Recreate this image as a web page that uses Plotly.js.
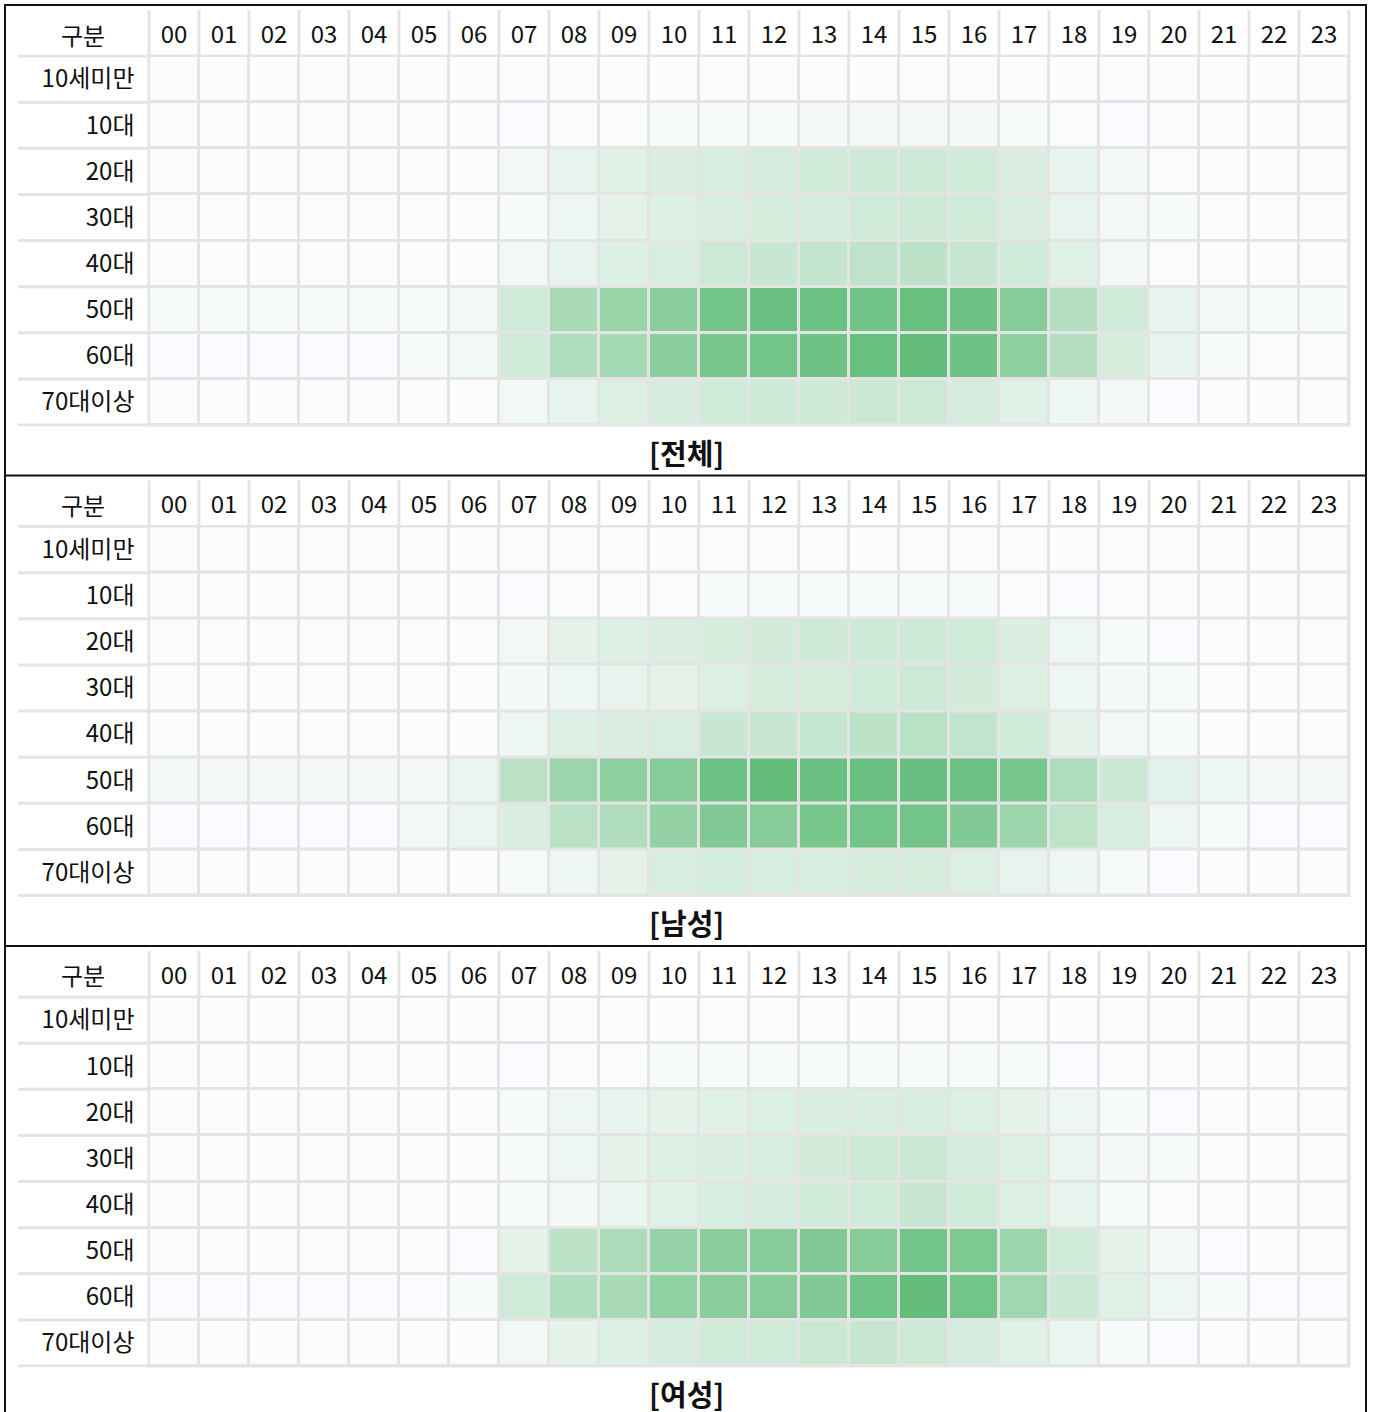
<!DOCTYPE html>
<html>
<head>
<meta charset="utf-8">
<script src="https://cdn.plot.ly/plotly-3.0.1.min.js"></script>
<style>
  html, body { margin: 0; padding: 0; background: #ffffff; }
  #chart { width: 1375px; height: 1412px; }
</style>
</head>
<body>
<div id="chart"></div>
<script>
// ---- data ----
const hours = ['00','01','02','03','04','05','06','07','08','09','10','11','12','13','14','15','16','17','18','19','20','21','22','23'];
const ageGroups = ['10세미만','10대','20대','30대','40대','50대','60대','70대이상'];
const headerLabel = '구분';
const panelTitles = ['[전체]','[남성]','[여성]'];

// relative intensity (0 = lowest, 100 = highest) per age group x hour
const totalValues = [
  [0,0,0,0,0,0,0,0,0,0,0,0,0,0,0,0,0,0,0,0,0,0,0,0],
  [0,0,0,0,0,0,0,1,2,2,3,3,4,5,6,6,5,3,2,1,0,0,0,0],
  [0,0,0,0,0,0,0,6,14,18,22,24,26,28,30,30,28,22,13,6,2,0,0,0],
  [0,0,0,0,0,0,0,3,10,16,20,23,25,26,29,31,28,23,14,6,3,0,0,0],
  [0,0,0,0,0,0,0,7,14,20,24,31,34,37,40,42,35,28,18,6,2,0,0,0],
  [4,4,4,4,4,4,7,29,55,65,75,90,96,94,91,97,93,78,48,29,13,6,4,4],
  [1,1,1,1,1,4,7,28,50,57,73,86,90,93,97,100,93,72,46,25,13,3,2,2],
  [0,0,0,0,0,0,0,7,14,21,26,28,30,30,33,31,26,18,10,5,1,0,0,0]
];
const maleValues = [
  [0,0,0,0,0,0,0,0,0,0,0,0,0,0,0,0,0,0,0,0,0,0,0,0],
  [0,0,0,0,0,0,0,1,2,2,2,3,3,3,4,4,3,2,1,0,0,0,0,0],
  [0,0,0,0,0,0,0,6,15,20,23,25,27,30,30,30,29,22,10,3,1,0,0,0],
  [0,0,0,0,0,0,0,5,10,14,16,21,25,25,28,31,27,21,10,5,3,0,0,0],
  [0,0,0,0,0,0,0,10,20,22,24,34,35,36,42,44,38,29,16,7,3,0,0,0],
  [7,6,6,6,6,6,12,43,63,72,78,94,100,96,96,98,94,86,51,32,17,10,6,6],
  [1,1,1,1,1,6,11,22,43,50,68,80,78,86,90,90,80,63,41,24,10,3,1,1],
  [0,0,0,0,0,0,0,3,10,16,24,26,24,24,25,25,21,14,10,3,1,0,0,0]
];
const femaleValues = [
  [0,0,0,0,0,0,0,0,0,0,0,0,0,0,0,0,0,0,0,0,0,0,0,0],
  [0,0,0,0,0,0,0,1,2,2,3,3,3,4,4,4,4,3,1,0,0,0,0,0],
  [0,0,0,0,0,0,0,4,9,13,16,18,21,22,23,24,21,15,9,3,1,0,0,0],
  [0,0,0,0,0,0,0,3,10,15,20,22,24,27,31,33,26,21,11,5,3,0,0,0],
  [0,0,0,0,0,0,0,4,7,12,18,24,26,28,29,35,29,21,14,3,0,0,0,0],
  [0,0,0,0,0,0,1,15,42,52,67,76,78,80,78,90,83,63,29,15,6,1,0,0],
  [1,1,1,1,1,1,4,29,50,55,69,76,78,80,91,100,90,60,33,18,9,3,1,1],
  [0,0,0,0,0,0,0,7,15,20,26,28,28,32,35,31,26,18,11,3,1,0,0,0]
];
const panels = [totalValues, maleValues, femaleValues];

// ---- layout helpers ----
const W = 1375, H = 1412;
const FONT = '"Noto Sans CJK KR", "Noto Sans", sans-serif';
const GRID = '#e4e4e4';
const PANEL_STEP = 470.5;
const fx = px => px / W;
const fy = py => 1 - py / H;

const dataLeft = 149, dataRight = 1349, labelLeft = 18;
const colW = (dataRight - dataLeft) / hours.length;
const pad = 1.5;

const traces = [];
const layout = {
  width: W, height: H,
  margin: {l: 0, r: 0, t: 0, b: 0},
  paper_bgcolor: '#ffffff',
  plot_bgcolor: GRID,
  showlegend: false,
  font: {family: FONT, color: '#111111', size: 24},
  annotations: [],
  shapes: []
};

panels.forEach((vals, k) => {
  const off = PANEL_STEP * k;
  const dataTop = 56 + off, dataBottom = 425 + off;
  const rowH = (dataBottom - dataTop) / ageGroups.length;
  const sfx = k === 0 ? '' : String(k + 1);

  traces.push({
    type: 'heatmap',
    x: hours, y: ageGroups, z: vals,
    xaxis: 'x' + sfx, yaxis: 'y' + sfx,
    zmin: 0, zmax: 100,
    colorscale: [[0, '#FCFCFF'], [1, '#63BE7B']],
    showscale: false,
    xgap: 3, ygap: 3,
    hoverinfo: 'x+y+z'
  });

  layout['xaxis' + sfx] = {
    type: 'category',
    domain: [fx(dataLeft - pad), fx(dataRight + pad)],
    range: [-0.5 - pad / colW, hours.length - 0.5 + pad / colW],
    anchor: 'y' + sfx,
    side: 'top',
    showgrid: false, zeroline: false, showline: false, ticks: '',
    ticklabelstandoff: 6,
    tickfont: {family: FONT, size: 24, color: '#111111'},
    fixedrange: true
  };
  layout['yaxis' + sfx] = {
    type: 'category',
    domain: [fy(dataBottom + pad), fy(dataTop - pad)],
    range: [ageGroups.length - 0.5 + pad / rowH, -0.5 - pad / rowH],
    anchor: 'x' + sfx,
    showgrid: false, zeroline: false, showline: false, ticks: '',
    ticklabelstandoff: 12,
    tickfont: {family: FONT, size: 24, color: '#111111'},
    fixedrange: true
  };

  // row separators in label column
  for (let j = 0; j <= ageGroups.length; j++) {
    layout.shapes.push({
      type: 'line', xref: 'paper', yref: 'y' + sfx,
      x0: fx(labelLeft), x1: fx(dataLeft),
      y0: j - 0.5, y1: j - 0.5,
      line: {color: GRID, width: 3}
    });
  }
  // column separators in header row
  for (let i = 0; i <= hours.length; i++) {
    layout.shapes.push({
      type: 'line', xref: 'x' + sfx, yref: 'paper',
      x0: i - 0.5, x1: i - 0.5,
      y0: fy(10 + off), y1: fy(dataTop),
      line: {color: GRID, width: 3}
    });
  }

  layout.annotations.push({
    text: headerLabel, xref: 'paper', yref: 'paper',
    x: fx(83), y: fy(34 + off), xanchor: 'center', yanchor: 'middle',
    showarrow: false, font: {family: FONT, size: 24, color: '#111111'}
  });
  layout.annotations.push({
    text: '<b>' + panelTitles[k] + '</b>', xref: 'paper', yref: 'paper',
    x: fx(686), y: fy(452 + off), xanchor: 'center', yanchor: 'middle',
    showarrow: false, font: {family: FONT, size: 29, color: '#111111'}
  });
});

// outer frame and panel separators
layout.shapes.push({
  type: 'rect', xref: 'paper', yref: 'paper',
  x0: fx(5), x1: fx(1366), y0: fy(5), y1: fy(1430),
  line: {color: '#111111', width: 2}
});
[1, 2].forEach(k => {
  layout.shapes.push({
    type: 'line', xref: 'paper', yref: 'paper',
    x0: fx(5), x1: fx(1366),
    y0: fy(5 + PANEL_STEP * k), y1: fy(5 + PANEL_STEP * k),
    line: {color: '#111111', width: 2}
  });
});

Plotly.newPlot('chart', traces, layout, {displayModeBar: false, staticPlot: true});
</script>
</body>
</html>
